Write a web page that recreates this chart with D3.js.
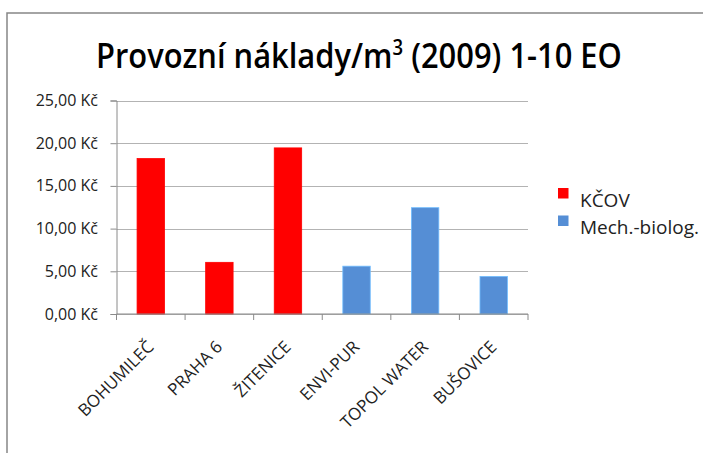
<!DOCTYPE html>
<html>
<head>
<meta charset="utf-8">
<script src="https://cdn.jsdelivr.net/npm/d3@7"></script>
<style>
  body { margin: 0; background: #fff; }
  text { font-family: "Open Sans", "Noto Sans", sans-serif; }
</style>
</head>
<body>
<div id="chart"></div>
<script>
// chart data
var categories = ["BOHUMILEČ", "PRAHA 6", "ŽITENICE", "ENVI-PUR", "TOPOL WATER", "BUŠOVICE"];
var values = [18.2, 6.05, 19.45, 5.6, 12.45, 4.4];
var groups = ["KČOV", "KČOV", "KČOV", "Mech.-biolog.", "Mech.-biolog.", "Mech.-biolog."];
var seriesNames = ["KČOV", "Mech.-biolog."];
var seriesColors = ["#ff0000", "#558ed5"];
var yTicks = [0, 5, 10, 15, 20, 25];

var W = 703, H = 453;
var plot = { left: 116.5, right: 528, top: 100.5, bottom: 314 };

var svg = d3.select("#chart").append("svg")
	.attr("width", W)
	.attr("height", H);

//outer chart border
svg.append("rect")
	.attr("x", 7).attr("y", 13)
	.attr("width", 720).attr("height", 460)
	.attr("fill", "none")
	.attr("stroke", "#868686")
	.attr("stroke-width", 1.5);

//title, squeezed horizontally to the reference width
var titleG = svg.append("g");
var title = titleG.append("text")
	.attr("x", 0).attr("y", 68)
	.style("font-size", "35px")
	.style("font-weight", 600)
	.attr("fill", "#000");
title.append("tspan").text("Provozní náklady/m");
title.append("tspan").style("font-size", "21px").attr("dy", -13).text("3");
title.append("tspan").attr("dy", 13).text(" (2009) 1-10 EO");
var tw = title.node().getBBox().width;
titleG.attr("transform", "translate(96,0) scale(" + (526 / tw) + ",1)");

//scales
var x = d3.scaleBand()
	.domain(categories)
	.range([plot.left, plot.right])
	.paddingInner(0.6)
	.paddingOuter(0.3);

var xEdge = d3.scaleBand()
	.domain(categories)
	.range([plot.left, plot.right]);

var y = d3.scaleLinear()
	.domain([0, 25])
	.range([plot.bottom, plot.top]);

var color = d3.scaleOrdinal().domain(seriesNames).range(seriesColors);

var fmt = function(v){ return d3.format(".2f")(v).replace(".", ",") + " Kč"; };

//gridlines
svg.append("g").selectAll("line")
	.data(yTicks)
	.join("line")
	.attr("x1", plot.left).attr("x2", plot.right)
	.attr("y1", function(d){ return Math.round(y(d)) + 0.5; })
	.attr("y2", function(d){ return Math.round(y(d)) + 0.5; })
	.attr("stroke", "#b3b3b3")
	.attr("stroke-width", 1.2);

//y axis line + ticks
var yAxis = svg.append("g")
	.attr("transform", "translate(" + plot.left + ",0)")
	.call(d3.axisLeft(y).tickValues(yTicks).tickFormat("").tickSize(6));
yAxis.selectAll("line, path").attr("stroke", "#8a8a8a");

//y labels
svg.append("g").selectAll("text")
	.data(yTicks)
	.join("text")
	.attr("x", 98)
	.attr("y", function(d){ return y(d) + 5.5; })
	.attr("text-anchor", "end")
	.attr("font-size", 16)
	.attr("fill", "#222")
	.text(fmt);

//bars
svg.append("g").selectAll("rect")
	.data(values)
	.join("rect")
	.attr("x", function(d, i){ return x(categories[i]); })
	.attr("width", x.bandwidth())
	.attr("y", function(d){ return y(d); })
	.attr("height", function(d){ return y(0) - y(d); })
	.attr("fill", function(d, i){ return color(groups[i]); })
	.attr("stroke", function(d, i){ return d3.color(color(groups[i])).brighter(0.8); })
	.attr("stroke-width", 0.8);

//x axis
var xAxis = svg.append("g")
	.attr("transform", "translate(0," + plot.bottom + ")");
xAxis.append("line")
	.attr("x1", plot.left).attr("x2", plot.right)
	.attr("stroke", "#8a8a8a");
xAxis.selectAll(".tick")
	.data(categories.concat(["_end"]))
	.join("line")
	.attr("class", "tick")
	.attr("x1", function(d, i){ return i < categories.length ? xEdge(d) : plot.right; })
	.attr("x2", function(d, i){ return i < categories.length ? xEdge(d) : plot.right; })
	.attr("y1", 0).attr("y2", 6)
	.attr("stroke", "#8a8a8a");
xAxis.selectAll(".lbl")
	.data(categories)
	.join("text")
	.attr("class", "lbl")
	.attr("text-anchor", "end")
	.style("font-size", "17px")
	.attr("fill", "#222")
	.attr("transform", function(d){
		return "translate(" + (x(d) + x.bandwidth() / 2 + 4) + ",34) rotate(-45)";
	})
	.text(function(d){ return d; });

//legend
var legend = svg.append("g").attr("transform", "translate(558,188)");
var li = legend.selectAll("g")
	.data(seriesNames)
	.join("g")
	.attr("transform", function(d, i){ return "translate(0," + (i * 27.5) + ")"; });
li.append("rect")
	.attr("width", 10.5).attr("height", 10.5)
	.attr("fill", function(d){ return color(d); });
li.append("text")
	.attr("x", 22).attr("y", 18.5)
	.style("font-size", "19px")
	.attr("fill", "#222")
	.text(function(d){ return d; });
</script>
</body>
</html>
